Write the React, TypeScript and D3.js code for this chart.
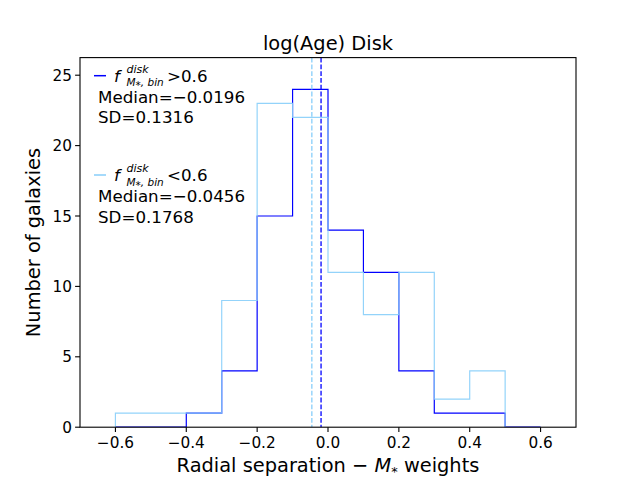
import React from "react";
import * as d3 from "d3";

const binEdges = [-0.6, -0.5, -0.4, -0.3, -0.2, -0.1, 0.0, 0.1, 0.2, 0.3, 0.4, 0.5, 0.6];
const highCounts = [0, 0, 1, 4, 15, 24, 14, 11, 4, 1, 1, 0];
const lowEdges = [-0.6, -0.5, -0.4, -0.3, -0.2, -0.1, 0.0, 0.1, 0.2, 0.3, 0.4, 0.5];
const lowCounts = [1, 1, 1, 9, 23, 22, 11, 8, 11, 2, 4];
const medianHigh = -0.0196;
const medianLow = -0.0456;
const xTicks = [-0.6, -0.4, -0.2, 0.0, 0.2, 0.4, 0.6];
const yTicks = [0, 5, 10, 15, 20, 25];

const W = 640, H = 480;
const left = 80, right = 576, top = 57.6, bottom = 427.2;
const FONT = "DejaVu Sans";

function stepPath(edges: number[], counts: number[], x: d3.ScaleLinear<number, number>, y: d3.ScaleLinear<number, number>) {
  const pts: [number, number][] = [];
  pts.push([x(edges[0]), y(0)]);
  counts.forEach((c, i) => {
    pts.push([x(edges[i]), y(c)]);
    pts.push([x(edges[i + 1]), y(c)]);
  });
  pts.push([x(edges[edges.length - 1]), y(0)]);
  return d3.line()(pts) as string;
}

const fmt = (v: number) => (v < 0 ? "\u2212" : "") + Math.abs(v).toFixed(1);

function LegendEntry({ y0, color, op, med, sd }: { y0: number; color: string; op: string; med: string; sd: string }) {
  return (
    <g>
      <line x1={94} x2={106} y1={y0 - 6} y2={y0 - 6} stroke={color} strokeWidth={1.5} />
      <text x={114} y={y0} fontSize={16.7} fontFamily={FONT} fontStyle="italic">f</text>
      <text x={126.5} y={y0 - 9} fontSize={11} fontFamily={FONT} fontStyle="italic">disk</text>
      <text x={126.5} y={y0 + 4.5} fontSize={10.5} fontFamily={FONT} fontStyle="italic">{"M\u204E, bin"}</text>
      <text x={167} y={y0} fontSize={16.7} fontFamily={FONT}>{op}0.6</text>
      <text x={98} y={y0 + 21} fontSize={16.7} fontFamily={FONT}>{"Median=" + med}</text>
      <text x={98} y={y0 + 41.6} fontSize={16.7} fontFamily={FONT}>{"SD=" + sd}</text>
    </g>
  );
}

export default function App() {
  const x = d3.scaleLinear().domain([-0.7, 0.7]).range([left, right]);
  const y = d3.scaleLinear().domain([0, 26.25]).range([bottom, top]);
  const blue = "#0000ff";
  const light = "#87cefa";
  return (
    <svg width={W} height={H} style={{ position: "absolute", left: 0, top: 0, background: "#fff" }}>
      <rect x={0} y={0} width={W} height={H} fill="#fff" />
      <defs>
        <clipPath id="plotclip">
          <rect x={left} y={top} width={right - left} height={bottom - top} />
        </clipPath>
      </defs>
      <g clipPath="url(#plotclip)">
        <path d={stepPath(binEdges, highCounts, x, y)} fill="none" stroke={blue} strokeWidth={1.2} />
        <path d={stepPath(lowEdges, lowCounts, x, y)} fill="none" stroke={light} strokeWidth={1.2} strokeOpacity={0.9} />
        <line x1={x(medianHigh)} x2={x(medianHigh)} y1={top} y2={bottom} stroke={blue} strokeWidth={1.3} strokeDasharray="4.8,2" />
        <line x1={x(medianLow)} x2={x(medianLow)} y1={top} y2={bottom} stroke={light} strokeWidth={1.3} strokeDasharray="4.8,2" />
      </g>
      <rect x={left} y={top} width={right - left} height={bottom - top} fill="none" stroke="#000" strokeWidth={1.1} />
      {xTicks.map((t) => (
        <g key={"x" + t}>
          <line x1={x(t)} x2={x(t)} y1={bottom} y2={bottom + 4.9} stroke="#000" strokeWidth={1.1} />
          <text x={x(t)} y={bottom + 21} textAnchor="middle" fontSize={15.3} fontFamily={FONT}>{fmt(t)}</text>
        </g>
      ))}
      {yTicks.map((t) => (
        <g key={"y" + t}>
          <line x1={left - 4.9} x2={left} y1={y(t)} y2={y(t)} stroke="#000" strokeWidth={1.1} />
          <text x={left - 8} y={y(t) + 5.5} textAnchor="end" fontSize={15.3} fontFamily={FONT}>{t}</text>
        </g>
      ))}
      <text x={328} y={50} textAnchor="middle" fontSize={19.4} fontFamily={FONT}>log(Age) Disk</text>
      <text x={328} y={472.3} textAnchor="middle" fontSize={19.4} fontFamily={FONT}>
        Radial separation {"\u2212"} <tspan fontStyle="italic">M</tspan><tspan fontSize={13} dy={4}>*</tspan><tspan dy={-4}> weights</tspan>
      </text>
      <text transform="translate(39.5,242.5) rotate(-90)" textAnchor="middle" fontSize={19.4} fontFamily={FONT}>Number of galaxies</text>
      <LegendEntry y0={81.7} color={blue} op=">" med={"\u22120.0196"} sd="0.1316" />
      <LegendEntry y0={181} color={light} op="<" med={"\u22120.0456"} sd="0.1768" />
    </svg>
  );
}
